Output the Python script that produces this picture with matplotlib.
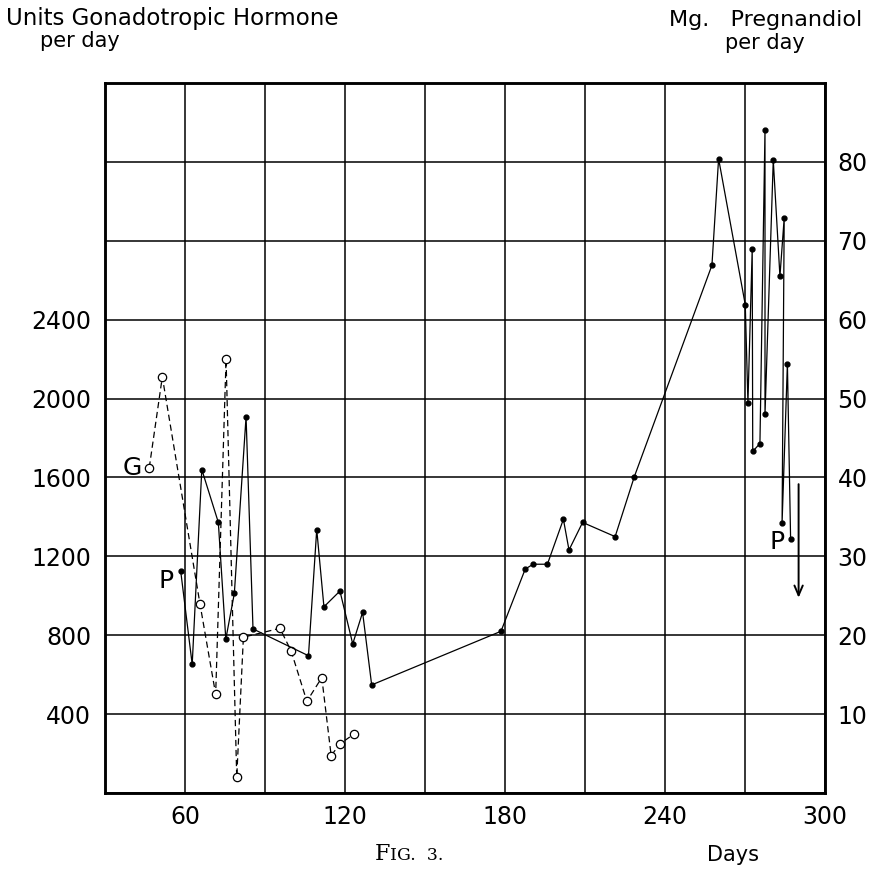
import matplotlib
matplotlib.use("Agg")
import matplotlib.pyplot as plt
from matplotlib.ticker import FixedLocator, MultipleLocator

# ---------------- data ----------------
# Gonadotropic hormone (units per day) - open circles, dashed line
g_days = [46.6, 51.5, 65.6, 71.5, 75.4, 79.4, 81.9, 95.6, 99.8, 105.7,
          111.3, 114.8, 118.2, 123.5]
g_units = [1650, 2110, 960, 500, 2200, 80, 790, 835, 720, 465,
           585, 190, 250, 300]

# Pregnandiol (mg per day) - small filled dots, solid line
p_days = [58.4, 62.7, 66.3, 72.5, 75.3, 78.5, 82.9, 85.5, 106.3, 109.4,
          112.1, 118.1, 122.9, 126.6, 130.0, 178.5, 187.6, 190.6, 195.9, 201.9,
          204.0, 209.1, 221.3, 228.5, 257.6, 260.1, 270.1, 271.1, 272.7, 272.9,
          275.6, 277.5, 277.5, 280.6, 283.1, 284.7, 283.9, 285.9, 287.1]
p_mg = [28.1, 16.3, 41.0, 34.3, 19.5, 25.3, 47.7, 20.8, 17.4, 33.4,
        23.6, 25.6, 18.9, 22.9, 13.7, 20.5, 28.4, 29.0, 29.0, 34.7,
        30.8, 34.3, 32.5, 40.1, 66.9, 80.4, 61.9, 49.5, 68.9, 43.3,
        44.3, 84.1, 48.0, 80.2, 65.5, 72.9, 34.2, 54.4, 32.2]

# arrow at the end of the record
arrow_day = 290.1
arrow_mg = [39.5, 24.4]

x_ticks = [60, 120, 180, 240, 300]
left_ticks = [400, 800, 1200, 1600, 2000, 2400]
right_ticks = [10, 20, 30, 40, 50, 60, 70, 80]

W, H = 877, 869
fig = plt.figure(figsize=(W / 100, H / 100), dpi=100)
fig.patch.set_facecolor("white")

FONT = "DejaVu Sans"
TICK = 17
ax = fig.add_axes([105 / W, 76 / H, 720 / W, 710 / H])
ax.set_xlim(30, 300)
ax.set_ylim(0, 3600)

ax.xaxis.set_major_locator(FixedLocator(x_ticks))
ax.xaxis.set_minor_locator(MultipleLocator(30))
ax.yaxis.set_major_locator(FixedLocator(left_ticks))
ax.yaxis.set_minor_locator(MultipleLocator(400))
ax.grid(which="both", color="black", lw=1.1)
ax.set_axisbelow(True)
ax.tick_params(which="both", length=0)
ax.tick_params(axis="y", pad=10, labelsize=TICK)
ax.tick_params(axis="x", pad=9, labelsize=TICK)
for lab in ax.get_xticklabels() + ax.get_yticklabels():
    lab.set_fontfamily(FONT)
for s in ax.spines.values():
    s.set_linewidth(1.8)
    s.set_color("black")

ax.plot(g_days, g_units, color="black", lw=0.9, ls=(0, (5, 3)),
        marker="o", ms=6, mfc="white", mec="black", mew=0.9, zorder=3)

ax2 = ax.twinx()
ax2.set_ylim(0, 90)
ax2.yaxis.set_major_locator(FixedLocator(right_ticks))
ax2.tick_params(which="both", length=0, pad=9, labelsize=TICK)
for lab in ax2.get_yticklabels():
    lab.set_fontfamily(FONT)
for s in ax2.spines.values():
    s.set_linewidth(1.8)

ax2.plot(p_days, p_mg, color="black", lw=0.9, ls="-",
         marker="o", ms=3.5, mfc="black", mec="black", zorder=4)

ax2.annotate("", xy=(arrow_day, arrow_mg[1]), xytext=(arrow_day, arrow_mg[0]),
             arrowprops=dict(arrowstyle="->,head_length=0.7,head_width=0.3",
                             lw=1.4, color="black"))

# series labels
ax.annotate("G", xy=(g_days[0], g_units[0]), xytext=(-5, 0),
            textcoords="offset points", ha="right", va="center",
            fontsize=18, family=FONT)
ax2.annotate("P", xy=(p_days[0], p_mg[0]), xytext=(-5, -7),
             textcoords="offset points", ha="right", va="center",
             fontsize=18, family=FONT)
ax2.annotate("P", xy=(p_days[-1], p_mg[-1]), xytext=(-4, -2),
             textcoords="offset points", ha="right", va="center",
             fontsize=18, family=FONT)

# axis titles
def ftext(x, y, s, **kw):
    fig.text(x / W, 1 - y / H, s, family=FONT, **kw)

ftext(6, 18, "Units Gonadotropic Hormone", fontsize=16.5, ha="left", va="center")
ftext(40, 41, "per day", fontsize=15, ha="left", va="center")
ftext(862, 20, "Mg.   Pregnandiol", fontsize=16, ha="right", va="center")
ftext(805, 43, "per day", fontsize=15, ha="right", va="center")
ftext(733, 855, "Days", fontsize=15, ha="center", va="center")
fig.text(390 / W, 1 - 860 / H, "F", family="DejaVu Serif", fontsize=16,
         ha="right", va="baseline")
fig.text(390 / W, 1 - 860 / H, "IG.  3.", family="DejaVu Serif", fontsize=12.5,
         ha="left", va="baseline")

fig.savefig("out.png", dpi=100, facecolor="white")
